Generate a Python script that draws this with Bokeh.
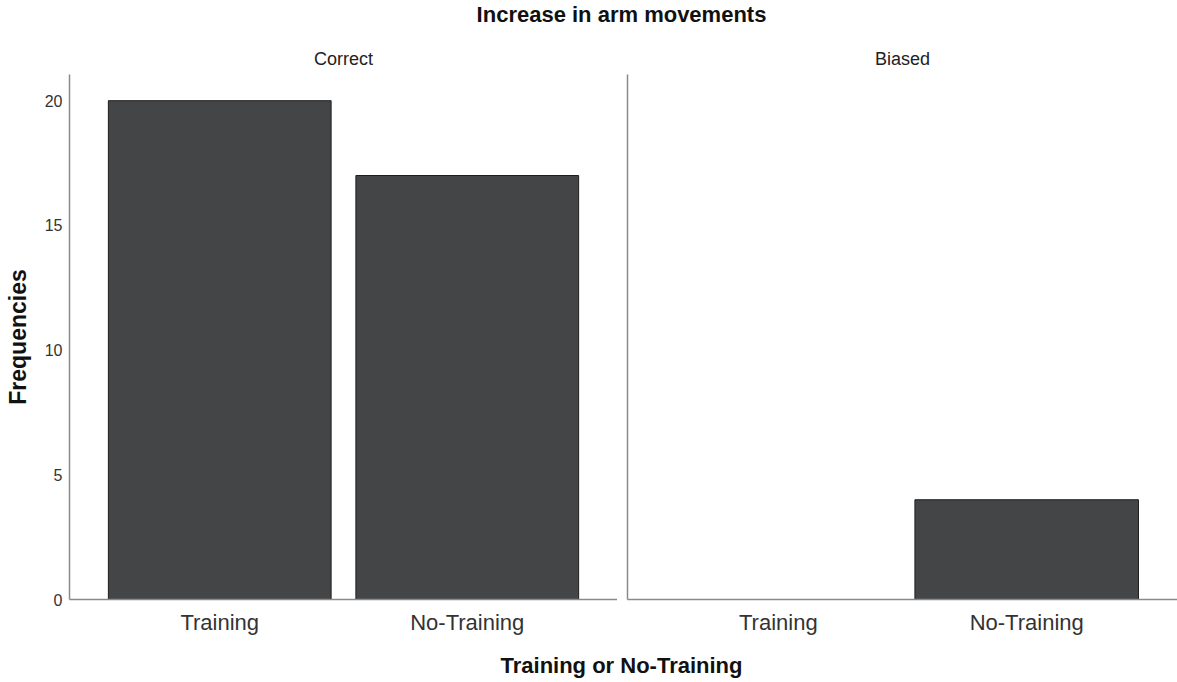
from bokeh.plotting import figure
from bokeh.layouts import column, row
from bokeh.models import (FactorRange, Range1d, SingleIntervalTicker, FixedTicker,
                          Label, ColumnDataSource)
from bokeh.embed import file_html
from bokeh.resources import INLINE

# ---- data ----
categories = ["Training", "No-Training"]
correct_counts = [20, 17]
biased_counts = [0, 4]
panel_names = ["Correct", "Biased"]
y_ticks_interval = 5

FONT = "Liberation Sans"
BAR_FILL = "#434547"
BAR_LINE = "#1e1e1e"
AXIS_COLOR = "#8a8a8a"
TEXT_COLOR = "#222222"

TOTAL_W = 1177
TITLE_H = 36
PANEL_H = 604
XLAB_H = 42
LEFT_W = 617
RIGHT_W = TOTAL_W - LEFT_W
Y_MAX = 21.05


def blank_strip(height, text, size, y_from_bottom):
    f = figure(width=TOTAL_W, height=height, toolbar_location=None,
               output_backend="svg", x_range=Range1d(0, 1), y_range=Range1d(0, 1),
               x_axis_location=None, y_axis_location=None,
               min_border=0, outline_line_color=None)
    f.grid.visible = False
    f.add_layout(Label(x=621, y=y_from_bottom, x_units="screen", y_units="screen",
                       text=text, text_align="center", text_baseline="middle",
                       text_font=FONT, text_font_size=size, text_font_style="bold",
                       text_color="#111111"))
    return f


def panel(name, counts, width, left_border, show_y_labels):
    p = figure(width=width, height=PANEL_H, toolbar_location=None, output_backend="svg",
               x_range=FactorRange(factors=categories, range_padding=0.107,
                                   range_padding_units="absolute"),
               y_range=Range1d(0, Y_MAX),
               min_border_left=left_border, min_border_right=0,
               min_border_top=38, min_border_bottom=41,
               outline_line_color=None)
    p.title.text = name
    p.title.align = "center"
    p.title.text_font = FONT
    p.title.text_font_size = "18px"
    p.title.text_font_style = "normal"
    p.title.text_color = TEXT_COLOR
    p.title.standoff = 12
    p.grid.visible = False

    src = ColumnDataSource(dict(cat=categories, count=counts))
    p.vbar(x="cat", top="count", width=0.9, source=src,
           fill_color=BAR_FILL, line_color=BAR_LINE, line_width=1)

    for ax in (p.xaxis[0], p.yaxis[0]):
        ax.axis_line_color = AXIS_COLOR
        ax.axis_line_width = 1.5
        ax.major_tick_line_color = None
        ax.minor_tick_line_color = None
        ax.major_tick_out = 0
        ax.major_tick_in = 0
        ax.minor_tick_out = 0
        ax.minor_tick_in = 0

    xa = p.xaxis[0]
    xa.major_label_text_font = FONT
    xa.major_label_text_font_size = "22px"
    xa.major_label_text_color = "#333333"
    xa.major_label_standoff = 10

    ya = p.yaxis[0]
    if show_y_labels:
        ya.ticker = SingleIntervalTicker(interval=y_ticks_interval)
        ya.major_label_text_font = FONT
        ya.major_label_text_font_size = "16px"
        ya.major_label_text_color = "#333333"
        ya.major_label_standoff = 7
        ya.axis_label = "Frequencies"
        ya.axis_label_text_font = FONT
        ya.axis_label_text_font_size = "23px"
        ya.axis_label_text_font_style = "bold"
        ya.axis_label_text_color = "#111111"
        ya.axis_label_standoff = 11
    else:
        ya.ticker = FixedTicker(ticks=[])
    return p


left = panel(panel_names[0], correct_counts, LEFT_W, 69, True)
right = panel(panel_names[1], biased_counts, RIGHT_W, 10, False)

top = blank_strip(TITLE_H, "Increase in arm movements", "22px", 22)
bottom = blank_strip(XLAB_H, "Training or No-Training", "22px", 17)

layout = column(top, row(left, right), bottom)
open("out.html", "w").write(file_html(layout, INLINE))
